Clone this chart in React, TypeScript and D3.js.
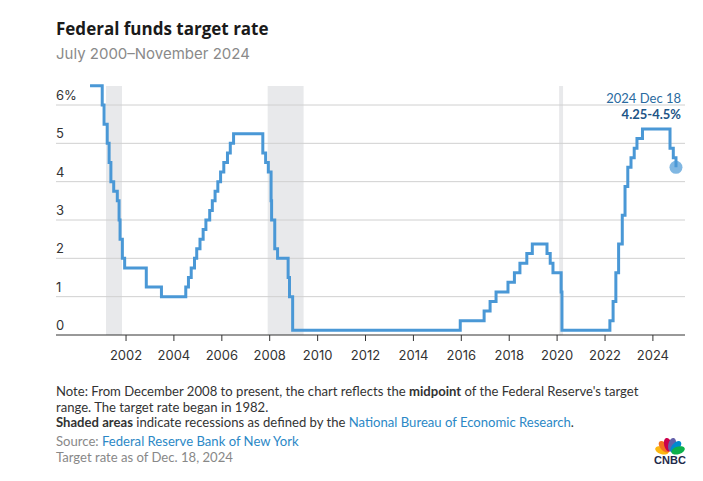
import React from "react";
import * as d3 from "d3";

const rateChanges: [string, number][] = [
  ["2000-07-01", 6.5],
  ["2001-01-03", 6.0],
  ["2001-01-31", 5.5],
  ["2001-03-20", 5.0],
  ["2001-04-18", 4.5],
  ["2001-05-15", 4.0],
  ["2001-06-27", 3.75],
  ["2001-08-21", 3.5],
  ["2001-09-17", 3.0],
  ["2001-10-02", 2.5],
  ["2001-11-06", 2.0],
  ["2001-12-11", 1.75],
  ["2002-11-06", 1.25],
  ["2003-06-25", 1.0],
  ["2004-06-30", 1.25],
  ["2004-08-10", 1.5],
  ["2004-09-21", 1.75],
  ["2004-11-10", 2.0],
  ["2004-12-14", 2.25],
  ["2005-02-02", 2.5],
  ["2005-03-22", 2.75],
  ["2005-05-03", 3.0],
  ["2005-06-30", 3.25],
  ["2005-08-09", 3.5],
  ["2005-09-20", 3.75],
  ["2005-11-01", 4.0],
  ["2005-12-13", 4.25],
  ["2006-01-31", 4.5],
  ["2006-03-28", 4.75],
  ["2006-05-10", 5.0],
  ["2006-06-29", 5.25],
  ["2007-09-18", 4.75],
  ["2007-10-31", 4.5],
  ["2007-12-11", 4.25],
  ["2008-01-22", 3.5],
  ["2008-01-30", 3.0],
  ["2008-03-18", 2.25],
  ["2008-04-30", 2.0],
  ["2008-10-08", 1.5],
  ["2008-10-29", 1.0],
  ["2008-12-16", 0.125],
  ["2015-12-16", 0.375],
  ["2016-12-14", 0.625],
  ["2017-03-15", 0.875],
  ["2017-06-14", 1.125],
  ["2017-12-13", 1.375],
  ["2018-03-21", 1.625],
  ["2018-06-13", 1.875],
  ["2018-09-26", 2.125],
  ["2018-12-19", 2.375],
  ["2019-07-31", 2.125],
  ["2019-09-18", 1.875],
  ["2019-10-30", 1.625],
  ["2020-03-03", 1.125],
  ["2020-03-15", 0.125],
  ["2022-03-16", 0.375],
  ["2022-05-04", 0.875],
  ["2022-06-15", 1.625],
  ["2022-07-27", 2.375],
  ["2022-09-21", 3.125],
  ["2022-11-02", 3.875],
  ["2022-12-14", 4.375],
  ["2023-02-01", 4.625],
  ["2023-03-22", 4.875],
  ["2023-05-03", 5.125],
  ["2023-07-26", 5.375],
  ["2024-09-18", 4.875],
  ["2024-11-07", 4.625],
  ["2024-12-18", 4.375],
];

const recessions: [string, string][] = [
  ["2001-03-01", "2001-11-01"],
  ["2007-12-01", "2009-06-01"],
  ["2020-02-01", "2020-04-01"],
];

const yTicks = [0, 1, 2, 3, 4, 5, 6];
const xTickYears = [2002, 2004, 2006, 2008, 2010, 2012, 2014, 2016, 2018, 2020, 2022, 2024];

const parse = d3.timeParse("%Y-%m-%d");
const BODY = "Lato, sans-serif";
const NUM = "Inter, sans-serif";

export default function App() {
  const x = d3
    .scaleTime()
    .domain([new Date(2000, 0, 1), new Date(2025, 0, 1)])
    .range([78.1, 676.9]);
  const y = d3.scaleLinear().domain([0, 6]).range([335, 105]);

  const pts = rateChanges.map(([d, v]) => ({ date: parse(d) as Date, v }));
  const line = d3
    .line<{ date: Date; v: number }>()
    .x((d) => x(d.date))
    .y((d) => y(d.v))
    .curve(d3.curveStepAfter);
  const last = pts[pts.length - 1];

  return (
    <svg width={703} height={481} style={{ display: "block", position: "absolute", left: 0, top: 0 }}>
      <rect width={703} height={481} fill="#fff" />
      <text x={56} y={35} fontFamily="'Open Sans', sans-serif" fontWeight={700} fontSize={17} fill="#1a1a1a">
        Federal funds target rate
      </text>
      <text x={56} y={59} fontFamily={NUM} fontSize={15} fill="#8a8a8a">
        July 2000–November 2024
      </text>

      {recessions.map(([a, b], i) => (
        <rect
          key={i}
          x={x(parse(a) as Date)}
          y={86}
          width={x(parse(b) as Date) - x(parse(a) as Date)}
          height={335 - 86}
          fill="#e8e9eb"
        />
      ))}

      {yTicks.map((t) => (
        <g key={t}>
          {t > 0 && <line x1={56} x2={685} y1={y(t)} y2={y(t)} stroke="#d0d0d0" strokeWidth={1} />}
          <text x={56} y={y(t) - 5} fontFamily={NUM} fontSize={13} fill="#333">
            {t === 6 ? "6%" : String(t)}
          </text>
        </g>
      ))}

      <line x1={56} x2={685} y1={335} y2={335} stroke="#333" strokeWidth={1} />
      {xTickYears.map((yr) => {
        const px = x(new Date(yr, 0, 1));
        return (
          <g key={yr}>
            <line x1={px} x2={px} y1={335} y2={341} stroke="#333" strokeWidth={1} />
            <text x={px} y={360} textAnchor="middle" fontFamily={NUM} fontSize={13} fill="#333">
              {yr}
            </text>
          </g>
        );
      })}

      <path
        d={line([...pts, { date: new Date(2024, 11, 18), v: last.v }]) || ""}
        fill="none"
        stroke="#4a98d6"
        strokeWidth={3}
        strokeLinejoin="miter"
      />
      <circle cx={x(last.date)} cy={y(last.v)} r={6.5} fill="#4a98d6" fillOpacity={0.7} />

      <text x={681} y={103} textAnchor="end" fontFamily={BODY} fontSize={13} fill="#2a6aa0">
        2024 Dec 18
      </text>
      <text x={681} y={119} textAnchor="end" fontFamily={BODY} fontWeight={700} fontSize={13} fill="#1d5487">
        4.25-4.5%
      </text>

      <g fontFamily={BODY} fontSize={13.1}>
        <text x={56} y={396} fill="#333">
          Note: From December 2008 to present, the chart reflects the <tspan fontWeight={700}>midpoint</tspan> of the Federal Reserve's target
        </text>
        <text x={56} y={411.5} fill="#333">
          range. The target rate began in 1982.
        </text>
        <text x={56} y={427} fill="#333">
          <tspan fontWeight={700}>Shaded areas</tspan> indicate recessions as defined by the{" "}
          <tspan fill="#2b88c6">National Bureau of Economic Research</tspan>.
        </text>
        <text x={56} y={446} fill="#888">
          Source: <tspan fill="#2b88c6">Federal Reserve Bank of New York</tspan>
        </text>
        <text x={56} y={462} fill="#888">
          Target rate as of Dec. 18, 2024
        </text>
      </g>

      <g transform="translate(670,453)">
        {[
          { a: -72, c: "#fcb711" },
          { a: -43, c: "#f37021" },
          { a: -14, c: "#cc004c" },
          { a: 14, c: "#6460aa" },
          { a: 43, c: "#0089d0" },
          { a: 72, c: "#0db14b" },
        ].map((f, i) => (
          <ellipse key={i} cx={0} cy={-8.5} rx={3.8} ry={7} fill={f.c} transform={`rotate(${f.a})`} />
        ))}
        <text x={0} y={10.5} textAnchor="middle" fontFamily="'Liberation Sans', Arial, sans-serif" fontWeight={700} fontSize={11} fill="#1e2a4a">
          CNBC
        </text>
      </g>
    </svg>
  );
}
